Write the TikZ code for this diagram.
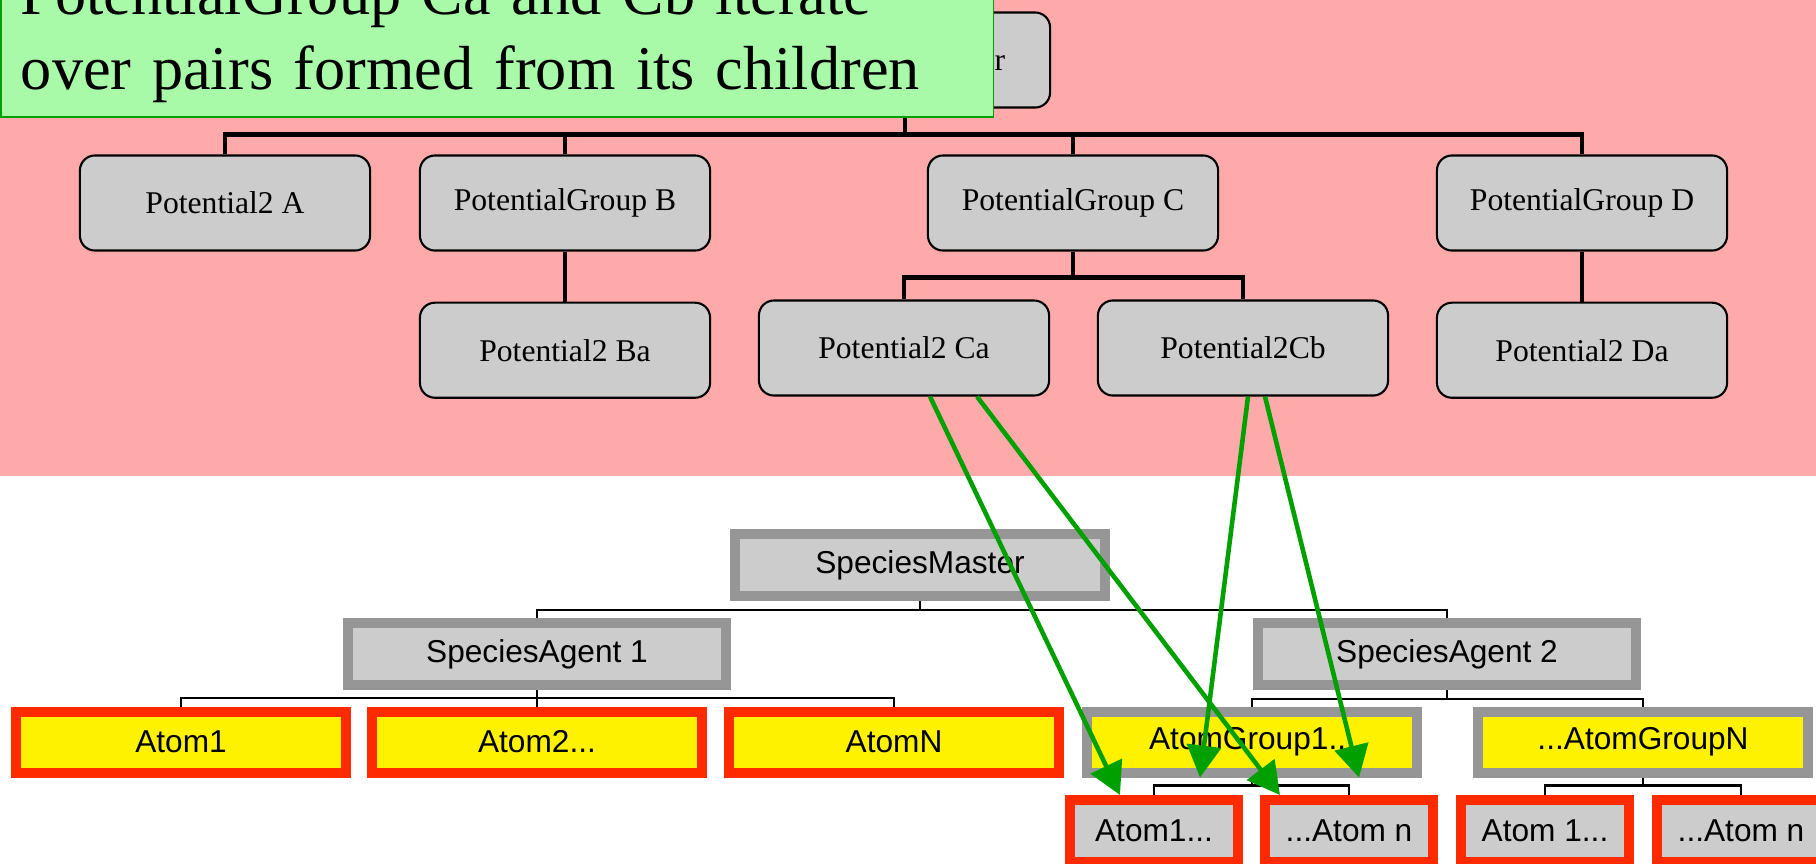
\documentclass[tikz,border=0pt]{standalone}
\usepackage{fontspec}
\setmainfont{Liberation Serif}
\setsansfont{Liberation Sans}
\usetikzlibrary{positioning,arrows.meta}

\definecolor{pinkbg}{RGB}{255,170,170}
\definecolor{boxgray}{RGB}{204,204,204}
\definecolor{edgegray}{RGB}{150,150,150}
\definecolor{atomred}{RGB}{255,42,0}
\definecolor{notegreen}{RGB}{168,250,168}
\definecolor{arrowgreen}{RGB}{0,160,0}

\begin{document}
\begin{tikzpicture}[x=0.01cm,y=-0.01cm,
  pot/.style={draw,fill=boxgray,rounded corners=0.15cm,line width=0.6pt,minimum width=2.9cm,minimum height=0.95cm,font=\rmfamily\fontsize{9}{11}\selectfont},
  tree/.style={line width=1.2pt},
  agent/.style={draw=edgegray,fill=boxgray,line width=0.1cm,minimum width=3.77cm,minimum height=0.62cm,font=\sffamily\fontsize{9}{11}\selectfont},
  atom/.style={agent,draw=atomred,fill=yellow,minimum width=3.3cm,minimum height=0.61cm},
  group/.style={agent,fill=yellow,minimum width=3.29cm,minimum height=0.61cm},
  leaf/.style={agent,draw=atomred,minimum width=1.67cm},
  link/.style={line width=0.6pt},
  flow/.style={draw=arrowgreen,line width=1.3pt,-{Triangle[length=0.32cm,width=0.34cm]}}]
\useasboundingbox (0,0) rectangle (1816,863);
\fill[pinkbg] (0,0) rectangle (1816,476);

% potentials
\node[pot] (root) at (905,60) {PotentialMaster};
\node[pot] (pA) at (225,203) {Potential2 A};
\node[pot] (pB) at (565,203) {PotentialGroup B};
\node[pot] (pC) at (1073,203) {PotentialGroup C};
\node[pot] (pD) at (1582,203) {PotentialGroup D};
\node[pot] (pBa) [below=0.5cm of pB] {Potential2 Ba};
\node[pot] (pCa) at (904,348) {Potential2 Ca};
\node[pot] (pCb) at (1243,348) {Potential2Cb};
\node[pot] (pDa) [below=0.5cm of pD] {Potential2 Da};

\foreach \c in {pA,pB,pC,pD} \draw[tree] (root.south) -- ++(0,26) -| (\c.north);
\draw[tree] (pB.south) -- (pBa.north);
\foreach \c in {pCa,pCb} \draw[tree] (pC.south) -- ++(0,26) -| (\c.north);
\draw[tree] (pD.south) -- (pDa.north);

% species
\node[agent,minimum width=3.7cm] (master) at (920,565) {SpeciesMaster};
\node[agent] (agent1) at (537,654) {SpeciesAgent 1};
\node[agent] (agent2) at (1447,654) {SpeciesAgent 2};
\node[atom] (atom1) at (181,742) {Atom1};
\node[atom] (atom2) at (537,742) {Atom2...};
\node[atom] (atomN) at (894,742) {AtomN};
\node[group] (grp1) at (1252,742) {AtomGroup1...};
\node[group] (grpN) at (1643,742) {...AtomGroupN};
\node[leaf] (leaf1) at (1154,831) {Atom1...};
\node[leaf] (leaf2) at (1349,831) {...Atom n};
\node[leaf] (leaf3) at (1545,831) {Atom 1...};
\node[leaf] (leaf4) at (1741,831) {...Atom n};

\foreach \c in {agent1,agent2} \draw[link] (master.south) -- ++(0,9) -| (\c.north);
\foreach \c in {atom1,atom2,atomN} \draw[link] (agent1.south) -- ++(0,8) -| (\c.north);
\foreach \c in {grp1,grpN} \draw[link] (agent2.south) -- ++(0,9) -| (\c.north);
\foreach \c in {leaf1,leaf2} \draw[link] (grp1.south) -- ++(0,8) -| (\c.north);
\foreach \c in {leaf3,leaf4} \draw[link] (grpN.south) -- ++(0,8) -| (\c.north);

% pairs
\draw[flow] ([xshift=0.26cm]pCa.south) -- ([xshift=-0.34cm]leaf1.north);
\draw[flow] ([xshift=0.73cm]pCa.south) -- ([xshift=-0.69cm]leaf2.north);
\draw[flow] ([xshift=0.05cm]pCb.south) -- ([xshift=-0.52cm]grp1.south);
\draw[flow] ([xshift=0.22cm]pCb.south) -- ([xshift=1.07cm]grp1.south);

\node[draw=arrowgreen,fill=notegreen,line width=0.5pt,anchor=south west,text width=9.52cm,inner xsep=0.2cm,inner ysep=0.14cm,align=left,font=\rmfamily\fontsize{17.7}{21.3}\selectfont] (note) at (0,118) {PotentialGroup Ca and Cb iterate\\over pairs formed from its children};
\end{tikzpicture}
\end{document}
